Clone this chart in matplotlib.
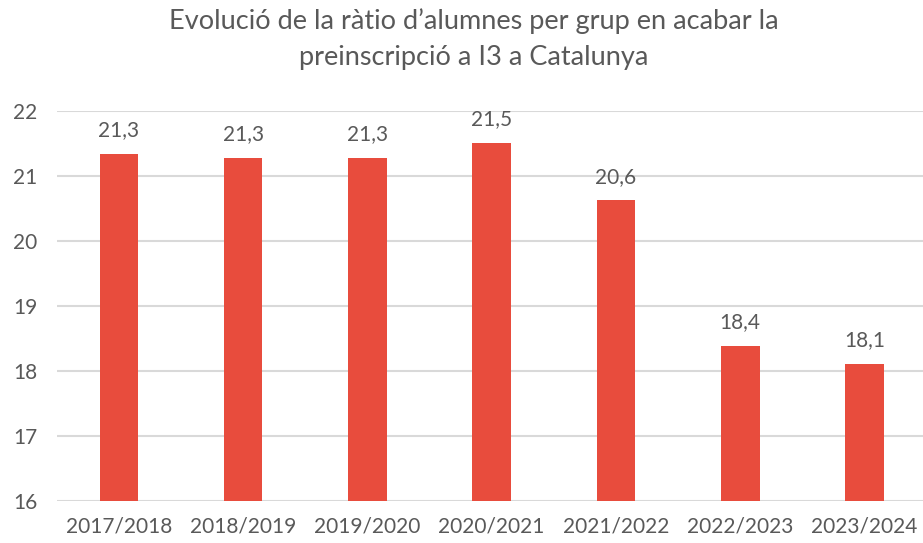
import matplotlib.pyplot as plt
import matplotlib as mpl

### Data
SEASONS = ["2017/2018", "2018/2019", "2019/2020", "2020/2021",
           "2021/2022", "2022/2023", "2023/2024"]
RATIO = [21.33, 21.27, 21.27, 21.5, 20.62, 18.39, 18.11]
LABELS = ["21,3", "21,3", "21,3", "21,5", "20,6", "18,4", "18,1"]
Y_TICKS = [16, 17, 18, 19, 20, 21, 22]

### Style
BAR_COLOR = "#E84C3D"
TEXT_COLOR = "#595959"
GRID_COLOR = "#D9D9D9"

mpl.rcParams["font.family"] = ["Lato", "DejaVu Sans"]
mpl.rcParams["text.color"] = TEXT_COLOR


def main():
    fig = plt.figure(figsize=(9.23, 5.43), dpi=100)
    ax = fig.add_axes([0.0614, 0.0773, 0.9426, 0.7188])

    x = range(len(SEASONS))
    ax.bar(x, [v - 16 for v in RATIO], bottom=16, width=0.31,
           color=BAR_COLOR, zorder=3)

    for xi, v, lab in zip(x, RATIO, LABELS):
        ax.annotate(lab, (xi, v), xytext=(0, 10), textcoords="offset points",
                    ha="center", va="bottom", fontsize=15, color=TEXT_COLOR)

    ax.set_xlim(-0.5, len(SEASONS) - 0.5)
    ax.set_ylim(16, 22)
    ax.set_yticks(Y_TICKS)
    ax.set_xticks(list(x))
    ax.set_xticklabels(SEASONS)
    ax.tick_params(axis="both", length=0, labelsize=15, colors=TEXT_COLOR)
    ax.tick_params(axis="x", pad=11)
    ax.tick_params(axis="y", pad=14)
    ax.grid(axis="y", color=GRID_COLOR, linewidth=1.5, zorder=0)
    for side in ["top", "right", "left", "bottom"]:
        ax.spines[side].set_visible(False)

    fig.text(0.513, 0.985,
             "Evolució de la ràtio d\u2019alumnes per grup en acabar la\n"
             "preinscripció a I3 a Catalunya",
             ha="center", va="top", fontsize=19.5, color=TEXT_COLOR,
             linespacing=1.55)

    fig.savefig("out.png", dpi=100)


if __name__ == "__main__":
    main()
